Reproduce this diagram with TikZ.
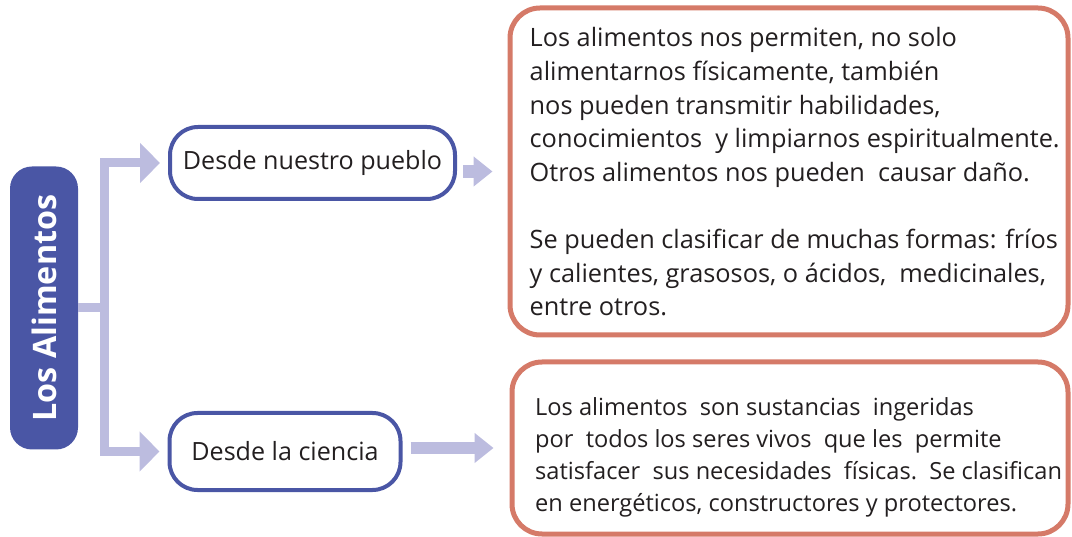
\documentclass[tikz,border=0pt]{standalone}
\usepackage{fontspec}
\usepackage{graphicx}
\setmainfont{Open Sans}
\usetikzlibrary{arrows.meta,calc}
\definecolor{navy}{HTML}{4A56A5}
\definecolor{lav}{HTML}{BCBCDF}
\definecolor{salmon}{HTML}{D57A68}
\definecolor{ink}{HTML}{231F20}
\tikzset{
  alimbox/.style={fill=navy, draw=none, rounded corners=22pt, minimum width=68pt, minimum height=283pt, inner sep=0pt, text=white, font=\bfseries\fontsize{32.3}{32}\selectfont},
  pillbox/.style={draw=navy, line width=4pt, rounded corners=28pt, fill=white, inner sep=0pt, text=ink, font=\fontsize{25.1}{30}\selectfont},
  infobox/.style={draw=salmon, line width=5pt, rounded corners=30pt, fill=white, inner sep=0pt},
  bodytxt/.style={anchor=north west, inner sep=0pt, align=left, text=ink},
  conn/.style={draw=lav, line width=9pt, -{Triangle[length=20pt,width=39pt]}},
  conntwo/.style={draw=lav, line width=12.5pt, -{Triangle[length=19pt,width=29pt]}}
}
\begin{document}
\begin{tikzpicture}[x=1pt,y=-1pt]
\useasboundingbox (0,0) rectangle (1072,537);
% main nodes
\node[alimbox] (alim) at (44,308) {\rotatebox{90}{Los Alimentos}};
\node[pillbox, minimum width=285pt, minimum height=72pt] (pueblo) at (312.5,163) {Desde nuestro pueblo};
\node[pillbox, minimum width=231pt, minimum height=77pt] (ciencia) at (285,451.5) {Desde la ciencia};
\node[infobox, minimum width=558pt, minimum height=327pt] (top) at (789,171.5) {};
\node[infobox, minimum width=556pt, minimum height=172pt] (bot) at (790,448) {};
% texts
\node[bodytxt, font=\fontsize{25.3}{33.6}\selectfont] (toptxt) at ($(top.north west)+(22,22)$) {Los alimentos nos permiten, no solo\\
alimentarnos físicamente, también\\
nos pueden transmitir habilidades,\\
conocimientos\ \ y limpiarnos espiritualmente.\\
Otros alimentos nos pueden\ \ causar daño.\\[33.5pt]
Se pueden clasificar de muchas formas: fríos\\
y calientes, grasosos, o ácidos,\ \ medicinales,\\
entre otros.};
\node[bodytxt, font=\fontsize{23.6}{31.8}\selectfont] (bottxt) at ($(bot.north west)+(25.5,38)$) {Los alimentos\ \ son sustancias\ \ ingeridas\\
por\ \ todos los seres vivos\ \ que les\ \ permite\\
satisfacer\ \ sus necesidades\ \ físicas.\ \ Se clasifican\\
en energéticos, constructores y protectores.};
% connectors
\coordinate (trunk) at (104,308);
\draw[draw=lav, line width=9pt] (alim.east) -- (trunk);
\draw[conn, shorten >=8pt] (trunk) |- (pueblo.west);
\draw[conn, shorten >=8pt] (trunk) |- (ciencia.west);
\draw[conntwo] ($(pueblo.east |- top.west)+(6,0)$) -- ($(top.west)+(-15,0)$);
\draw[conntwo] ($(ciencia.east |- bot.west)+(8,0)$) -- ($(bot.west)+(-16,0)$);
\end{tikzpicture}
\end{document}
